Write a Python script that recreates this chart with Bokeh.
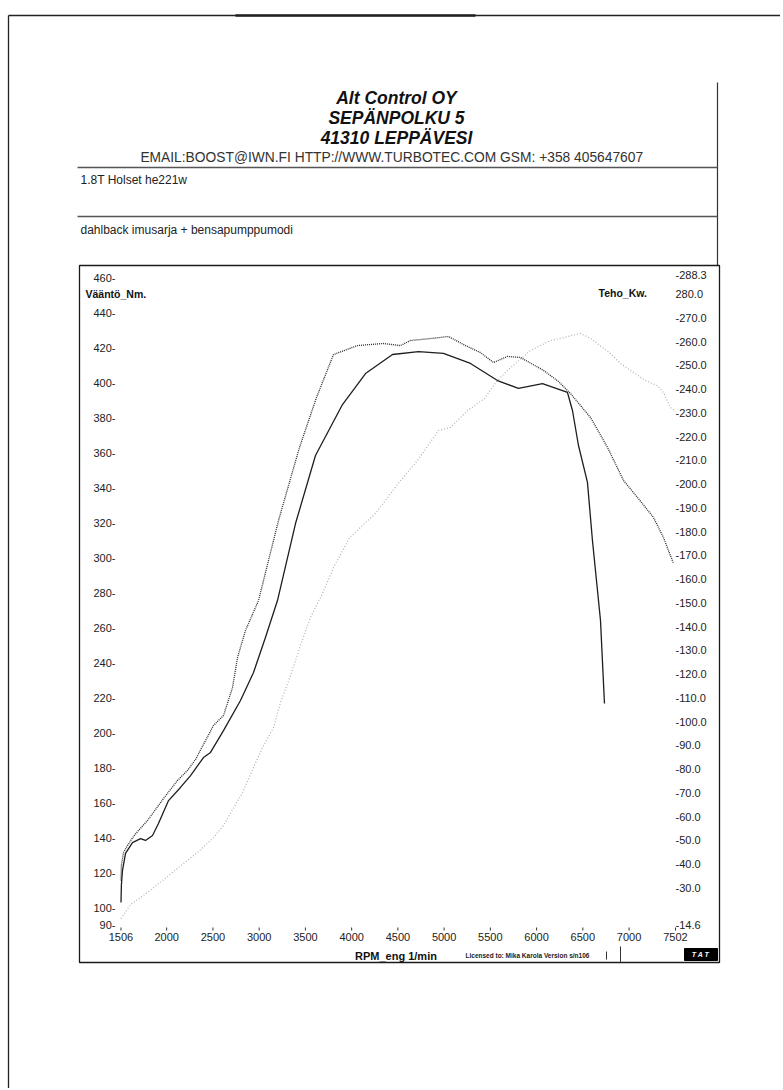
from bokeh.plotting import figure
from bokeh.models import Range1d, LinearAxis, FixedTicker
from bokeh.core.properties import value
from bokeh.embed import file_html
from bokeh.resources import INLINE

# ---------------- data ----------------
rpm_solid = [1506, 1510, 1522, 1555, 1630, 1717, 1771, 1847, 1911, 2020,
             2149, 2258, 2398, 2474, 2614, 2798, 2939, 3068, 3198, 3393,
             3609, 3901, 4150, 4442, 4723, 4993, 5285, 5577, 5804, 6064,
             6334, 6388, 6453, 6550, 6604, 6691, 6734]
nm_solid = [102.9, 112.6, 121.1, 130.9, 137.1, 139.4, 138.3, 141.1, 148.0, 161.1,
            168.6, 175.4, 185.7, 188.6, 201.1, 218.3, 234.3, 254.3, 275.4, 319.4,
            358.3, 387.4, 405.1, 416.0, 417.7, 416.6, 410.9, 401.1, 396.6, 399.4,
            394.3, 384.0, 364.0, 342.9, 309.7, 264.0, 216.6]

rpm_dot = [1506, 1510, 1533, 1576, 1641, 1695, 1793, 1966, 2117, 2225,
           2312, 2506, 2614, 2712, 2766, 2852, 2993, 3209, 3436, 3620,
           3804, 4063, 4344, 4528, 4636, 4853, 5047, 5231, 5393, 5534,
           5685, 5826, 6075, 6237, 6366, 6583, 6767, 6940, 7091, 7264,
           7372, 7480]
nm_dot = [115.4, 124.0, 131.4, 135.4, 140.6, 144.0, 149.7, 162.3, 172.6, 178.3,
          184.6, 204.0, 209.7, 225.7, 242.9, 258.3, 275.4, 321.1, 362.9, 391.4,
          416.0, 421.1, 422.3, 421.1, 424.0, 425.1, 426.3, 421.1, 417.1, 411.4,
          414.9, 414.3, 406.9, 400.6, 393.7, 380.0, 362.9, 344.0, 334.3, 322.9,
          311.4, 296.6]

rpm_kw = [1506, 1609, 1793, 2009, 2182, 2333, 2506, 2614, 2820, 2939,
          3036, 3155, 3231, 3339, 3447, 3555, 3685, 3804, 3977, 4258,
          4528, 4712, 4939, 5069, 5253, 5437, 5577, 5685, 5934, 6150,
          6258, 6475, 6583, 6799, 6907, 7015, 7177, 7307, 7372, 7448, 7502]
kw_gray = [17.1, 23.0, 28.1, 34.8, 40.3, 44.9, 51.2, 56.3, 70.2, 80.7,
           89.1, 97.5, 108.1, 119.4, 132.1, 143.9, 154.0, 164.9, 177.5, 187.7,
           201.5, 210.0, 222.6, 223.9, 231.0, 236.1, 243.7, 247.9, 256.3, 260.5,
           261.4, 263.5, 261.4, 255.0, 250.8, 247.9, 243.7, 241.5, 238.6, 232.3, 230.6]

x_ticks = [1506, 2000, 2500, 3000, 3500, 4000, 4500, 5000, 5500, 6000, 6500, 7000, 7502]
nm_ticks = [90, 100, 120, 140, 160, 180, 200, 220, 240, 260, 280, 300, 320, 340,
            360, 380, 400, 420, 440, 460]
kw_ticks = [14.6, 30, 40, 50, 60, 70, 80, 90, 100, 110, 120, 130, 140, 150, 160,
            170, 180, 190, 200, 210, 220, 230, 240, 250, 260, 270, 280, 288.3]
nm_labels = {t: f"{t}-" for t in nm_ticks}
kw_labels = {t: f"-{t:.1f}" for t in kw_ticks}
kw_labels[280] = "280.0"

# sheet texts
head_lines = ["Alt Control OY", "SEPÄNPOLKU 5", "41310 LEPPÄVESI"]
contact = "EMAIL:BOOST@IWN.FI   HTTP://WWW.TURBOTEC.COM GSM:  +358 405647607"
note1 = "1.8T Holset he221w"
note2 = "dahlback imusarja + bensapumppumodi"

# ---------------- layout: canvas in page pixels ----------------
W, H = 780, 1088
BOX_L, BOX_R, BOX_T, BOX_B = 79, 719, 265, 962
# calibration of the chart scales (pixel anchors)
X_A, X_B = (1506, 120.5), (7502, 675)        # rpm -> px
NM_A, NM_B = (90, 924.5), (460, 277)         # Nm -> px (from top)
KW_A, KW_B = (14.6, 924), (288.3, 274)       # kW -> px (from top)


def span_x(a, b):
    k = (b[0] - a[0]) / (b[1] - a[1])
    return Range1d(a[0] - a[1] * k, a[0] + (W - a[1]) * k)


def span_y(a, b):
    k = (b[0] - a[0]) / (a[1] - b[1])
    return Range1d(a[0] - (H - a[1]) * k, a[0] + a[1] * k)


p = figure(frame_width=W, frame_height=H,
           x_range=Range1d(0, W), y_range=Range1d(H, 0),
           x_axis_type=None, y_axis_type=None,
           min_border=0, min_border_left=0, min_border_right=0,
           min_border_top=0, min_border_bottom=0,
           output_backend="svg", toolbar_location=None,
           background_fill_color="white", border_fill_color="white")
p.outline_line_color = None
p.grid.visible = False
p.extra_x_ranges = {"rpm": span_x(X_A, X_B)}
p.extra_y_ranges = {"nm": span_y(NM_A, NM_B), "kw": span_y(KW_A, KW_B)}

FONT = "Liberation Sans"


def style_axis(ax, standoff):
    ax.axis_line_color = None
    ax.major_tick_line_color = None
    ax.minor_tick_line_color = None
    ax.major_tick_out = 0
    ax.major_tick_in = 0
    ax.minor_tick_out = 0
    ax.minor_tick_in = 0
    ax.major_label_standoff = standoff
    ax.major_label_text_font = FONT
    ax.major_label_text_font_size = "11px"
    ax.major_label_text_color = "#222222"


xa = LinearAxis(x_range_name="rpm")
style_axis(xa, 932 - H)
xa.ticker = FixedTicker(ticks=x_ticks)
p.add_layout(xa, "below")

ya = LinearAxis(y_range_name="nm")
style_axis(ya, -115)
ya.ticker = FixedTicker(ticks=nm_ticks)
ya.major_label_overrides = nm_labels
p.add_layout(ya, "left")

ra = LinearAxis(y_range_name="kw")
style_axis(ra, 675 - W)
ra.ticker = FixedTicker(ticks=kw_ticks)
ra.major_label_overrides = kw_labels
p.add_layout(ra, "right")

# ---------------- sheet frame and rules (page pixels) ----------------
p.segment(x0=[8, 235, 8, 717, 77, 77], y0=[15, 15, 15, 82, 167, 216],
          x1=[W, 475, 8, 717, 717, 717], y1=[15, 15, H, BOX_T, 167, 216],
          line_color=["#222222", "#222222", "#222222", "#333333", "#555555", "#555555"],
          line_width=[1.3, 2.5, 1.3, 1.2, 1.3, 1.3])
p.quad(left=[BOX_L], right=[BOX_R], top=[BOX_T], bottom=[BOX_B],
       fill_color=None, line_color="#1a1a1a", line_width=1.3)
p.segment(x0=[606, 620], y0=[951, 946], x1=[606, 620], y1=[959, BOX_B],
          line_color="#333333", line_width=1.0)
p.quad(left=[684], right=[BOX_R - 2], top=[948], bottom=[BOX_B - 2],
       fill_color="black", line_color="black")

# small x tick marks above the rpm labels
p.segment(x0=x_ticks, x1=x_ticks, y0=[927] * len(x_ticks), y1=[930] * len(x_ticks),
          x_range_name="rpm", line_color="#333333", line_width=1.0)

# header texts
p.text(x=[396, 396, 396], y=[97, 117, 137], text=head_lines,
       text_font=value(FONT), text_font_size="17.5px", text_font_style="bold italic",
       text_align="center", text_baseline="middle", text_color="#111111")
p.text(x=[397], y=[157], text=[contact], text_font=value(FONT), text_font_size="13.8px",
       text_align="center", text_baseline="middle", text_color="#333333")
p.text(x=[80, 80], y=[179, 229], text=[note1, note2], text_font=value(FONT),
       text_font_size="12px", text_align="left", text_baseline="middle",
       text_color="#222222")
p.text(x=[85, 598], y=[293, 292], text=["Vääntö_Nm.", "Teho_Kw."], text_font=value(FONT),
       text_font_size="10.5px", text_font_style="bold", text_align="left",
       text_baseline="middle", text_color="#111111")
p.text(x=[397], y=[955], text=["RPM_eng  1/min"], text_font=value(FONT),
       text_font_size="11px", text_font_style="bold", text_align="center",
       text_baseline="middle", text_color="#111111")
p.text(x=[465], y=[955], text=["Licensed to: Mika Karola     Version s/n106"],
       text_font=value(FONT), text_font_size="6.5px", text_font_style="bold",
       text_align="left", text_baseline="middle", text_color="#222222")
p.text(x=[700], y=[954], text=["T A T"], text_font=value(FONT), text_font_size="7px",
       text_font_style="bold italic", text_align="center", text_baseline="middle",
       text_color="white")

# ---------------- curves ----------------
p.line(rpm_kw, kw_gray, x_range_name="rpm", y_range_name="kw",
       line_color="#b0b0b0", line_width=1.2, line_dash="1 2")
p.line(rpm_dot, nm_dot, x_range_name="rpm", y_range_name="nm",
       line_color="#2a2a2a", line_width=1.3, line_dash="1 1")
p.line(rpm_solid, nm_solid, x_range_name="rpm", y_range_name="nm",
       line_color="#1e1e1e", line_width=1.3)

open("out.html", "w").write(file_html(p, INLINE))
